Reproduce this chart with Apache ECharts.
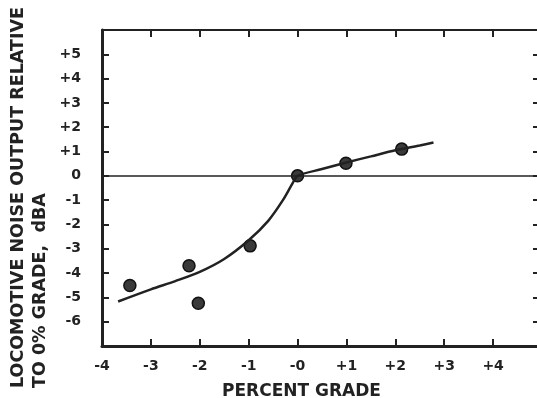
<!DOCTYPE html>
<html>
<head>
<meta charset="utf-8">
<script src="https://cdn.jsdelivr.net/npm/echarts@6/dist/echarts.min.js"></script>
<style>html,body{margin:0;padding:0;background:#fff;overflow:hidden}#c{width:545px;height:398px}</style>
</head>
<body>
<div id="c"></div>
<script>
// Observed data points (percent grade, dBA relative to 0% grade)
var pointX = [-3.43, -2.22, -2.03, -0.97, 0.0, 0.99, 2.13];
var pointY = [-4.51, -3.70, -5.24, -2.88, 0.0, 0.52, 1.10];
// Fitted curve
var curveX = [-3.67, -3.0, -2.5, -2.0, -1.5, -1.0, -0.6, -0.3, -0.1, 0.0, 0.5, 1.0, 1.5, 2.0, 2.5, 2.78];
var curveY = [-5.17, -4.67, -4.33, -3.95, -3.42, -2.65, -1.85, -1.0, -0.3, 0.0, 0.28, 0.55, 0.80, 1.05, 1.25, 1.37];
// Tick labels
var xTickValues = [-4, -3, -2, -1, 0, 1, 2, 3, 4];
var xTickLabels = ['-4', '-3', '-2', '-1', '-0', '+1', '+2', '+3', '+4'];
var yTickValues = [-6, -5, -4, -3, -2, -1, 0, 1, 2, 3, 4, 5];
var yTickLabels = ['-6', '-5', '-4', '-3', '-2', '-1', '0', '+1', '+2', '+3', '+4', '+5'];
var xTitle = 'PERCENT GRADE';
var yTitle1 = 'LOCOMOTIVE NOISE OUTPUT RELATIVE';
var yTitle2 = 'TO 0% GRADE,  dBA';

function lookup(vals, labels) {
  return function (v) {
    for (var i = 0; i < vals.length; i++) if (Math.abs(vals[i] - v) < 1e-6) return labels[i];
    return '';
  };
}
var FONT = 'DejaVu Sans';
var INK = '#222';

var chart = echarts.init(document.getElementById('c'), null, {renderer: 'canvas'});
chart.setOption({
  animation: false,
  backgroundColor: '#fff',
  grid: {left: 102, top: 30, width: 440, height: 316, containLabel: false},
  xAxis: [
    {type: 'value', min: -4, max: 5, interval: 1, position: 'bottom',
     axisLine: {show: true, onZero: false, lineStyle: {color: INK, width: 3}},
     axisTick: {show: true, inside: true, length: 7, lineStyle: {color: INK, width: 2}},
     axisLabel: {formatter: lookup(xTickValues, xTickLabels), margin: 13, color: INK,
                 fontFamily: FONT, fontWeight: 'bold', fontSize: 14, showMinLabel: true, showMaxLabel: true},
     splitLine: {show: false}},
    {type: 'value', min: -4, max: 5, interval: 1, position: 'top',
     axisLine: {show: true, onZero: false, lineStyle: {color: INK, width: 2}},
     axisTick: {show: true, inside: true, length: 7, lineStyle: {color: INK, width: 2}},
     axisLabel: {show: false}, splitLine: {show: false}}
  ],
  yAxis: [
    {type: 'value', min: -7, max: 6, interval: 1, position: 'left',
     axisLine: {show: true, onZero: false, lineStyle: {color: INK, width: 3}},
     axisTick: {show: true, inside: true, length: 7, lineStyle: {color: INK, width: 2}},
     axisLabel: {formatter: lookup(yTickValues, yTickLabels), margin: 21, color: INK,
                 fontFamily: FONT, fontWeight: 'bold', fontSize: 14},
     splitLine: {show: false}},
    {type: 'value', min: -7, max: 6, interval: 1, position: 'right',
     axisLine: {show: true, onZero: false, lineStyle: {color: INK, width: 2}},
     axisTick: {show: true, inside: true, length: 9, lineStyle: {color: INK, width: 2}},
     axisLabel: {show: false}, splitLine: {show: false}}
  ],
  series: [
    {type: 'line', xAxisIndex: 0, yAxisIndex: 0, smooth: 0.3, showSymbol: false,
     data: curveX.map(function (x, i) { return [x, curveY[i]]; }),
     lineStyle: {color: INK, width: 2.5},
     markLine: {silent: true, symbol: ['none', 'none'], label: {show: false},
                lineStyle: {color: INK, width: 1.5, type: 'solid'},
                data: [{yAxis: 0}]}},
    {type: 'scatter', xAxisIndex: 0, yAxisIndex: 0, symbol: 'circle', symbolSize: 12,
     data: pointX.map(function (x, i) { return [x, pointY[i]]; }),
     itemStyle: {color: '#3a3a3a', borderColor: '#111', borderWidth: 1.5, opacity: 1}}
  ],
  graphic: [
    {type: 'text', left: 222, top: 383,
     style: {text: xTitle, fill: INK, font: 'bold 17px "DejaVu Sans"'}},
    {type: 'text', x: 9, y: 388, rotation: Math.PI / 2,
     style: {text: yTitle1, fill: INK, font: 'bold 17.5px "DejaVu Sans"', textAlign: 'left', textVerticalAlign: 'top'}},
    {type: 'text', x: 31, y: 388, rotation: Math.PI / 2,
     style: {text: yTitle2, fill: INK, font: 'bold 17.5px "DejaVu Sans"', textAlign: 'left', textVerticalAlign: 'top'}}
  ]
});
</script>
</body>
</html>
